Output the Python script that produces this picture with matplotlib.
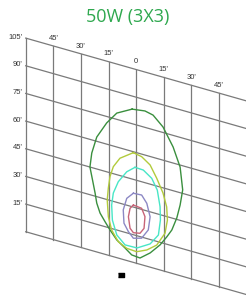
"""Isofootcandle plot for the 50W (3X3) fixture on a sheared floor grid."""

import matplotlib
matplotlib.use("Agg")
import matplotlib.pyplot as plt
import matplotlib.transforms as mtransforms
import numpy as np

# grid, in feet: across (u) and out from the pole (v)
across_ticks = [-60, -45, -30, -15, 0, 15, 30, 45, 60]
across_labels = ["", "45'", "30'", "15'", "0", "15'", "30'", "45'", ""]
out_ticks = [0, 15, 30, 45, 60, 75, 90, 105]
out_labels = ["", "15'", "30'", "45'", "60'", "75'", "90'", "105'"]

# contour outlines, (u, v) in feet
green_u = [-2.2, 4.8, 9.2, 14.6, 20.1, 23.9, 25.3, 23.9, 22.1, 19.4, 16.6, 13.0, 7.6, 2.1,
           -2.4, -6.0, -10.5, -14.2, -16.9, -19.6, -21.4, -22.3, -23.7, -25.1, -24.1, -21.4, -16.0, -10.5]
green_v = [82.9, 83.9, 82.9, 78.0, 68.7, 58.9, 46.9, 38.3, 30.8, 23.5, 18.9, 13.6, 7.7, 3.4,
           3.8, 6.5, 9.6, 14.0, 17.7, 21.6, 26.5, 31.7, 38.4, 45.0, 52.9, 62.3, 71.5, 78.4]
yellow_u = [-1.5, 3.0, 7.6, 11.2, 14.6, 16.6, 17.0, 15.7, 11.2, 5.8, 0.3, -5.1, -9.7, -13.3,
            -15.1, -15.7, -15.1, -14.2, -12.4, -8.8]
yellow_v = [59.5, 58.6, 55.4, 49.2, 42.2, 35.2, 28.2, 20.7, 13.0, 8.8, 6.3, 6.6, 8.9, 14.2,
            20.9, 29.8, 36.5, 42.9, 48.8, 54.4]
cyan_u = [-0.6, 3.9, 8.5, 11.5, 13.0, 13.2, 12.1, 7.6, 0.5, -6.0, -10.5, -12.9, -13.3, -12.4, -9.7, -5.1]
cyan_v = [51.8, 51.6, 48.4, 42.9, 34.3, 27.2, 18.7, 12.6, 8.4, 8.2, 12.3, 19.7, 27.8, 34.5, 41.4, 48.1]
purple_u = [-1.5, 3.0, 5.8, 7.6, 6.6, 3.0, -1.5, -4.2, -6.6, -7.0, -5.1]
purple_v = [37.5, 37.8, 34.1, 27.3, 19.9, 14.4, 13.1, 15.9, 19.8, 26.9, 33.7]
red_u = [-1.5, 3.0, 4.8, 4.3, 2.1, -1.5, -3.3, -4.2, -3.3]
red_v = [31.1, 30.6, 26.6, 20.1, 16.8, 16.1, 18.0, 24.0, 28.8]

contours = [
    (green_u, green_v, "#3a8f3e"),
    (yellow_u, yellow_v, "#b2cb3c"),
    (cyan_u, cyan_v, "#48e6c6"),
    (purple_u, purple_v, "#8c88c4"),
    (red_u, red_v, "#c86478"),
]

SKEW = 0.284          # floor recedes: each foot across drops the grid by this much
GRID = "#7a7a7a"
TEXT = "#333333"
LABEL_FONT = ["Liberation Sans", "DejaVu Sans"]
logo_pos = (-8.4, -8.8)   # small black mark under the grid

fig = plt.figure(figsize=(2.46, 2.96), dpi=100)
ax = fig.add_axes([0, 0, 1, 1])
ax.set_xlim(-73.97, 59.7)
ax.set_ylim(-17.8, 142.7)
ax.axis("off")
floor = mtransforms.Affine2D(np.array([[1, 0, 0], [-SKEW, 1, 0], [0, 0, 1]])) + ax.transData

for v in out_ticks:
    ax.plot([across_ticks[0], across_ticks[-1]], [v, v], color=GRID, lw=0.9, transform=floor)
for u in across_ticks:
    ax.plot([u, u], [out_ticks[0], out_ticks[-1]], color=GRID, lw=0.9, transform=floor)

for v, lab in zip(out_ticks, out_labels):
    ax.text(across_ticks[0] - 1.6, v, lab, ha="right", va="center", fontsize=5.5,
            color=TEXT, family=LABEL_FONT, transform=floor)
for u, lab in zip(across_ticks, across_labels):
    ax.text(u, out_ticks[-1] + 4.2, lab, ha="center", va="center", fontsize=5.5,
            color=TEXT, family=LABEL_FONT, transform=floor)

for cu, cv, color in contours:
    ax.plot(np.append(cu, cu[0]), np.append(cv, cv[0]), color=color, lw=1.0, transform=floor)

ax.plot(*logo_pos, marker=[(-1, -0.5), (1, -0.5), (1, 0.5), (-1, 0.5)], ms=4.5,
        color="black", transform=floor)

fig.text(127.5 / 246, 1 - 17 / 296, "50W (3X3)", ha="center", va="center", fontsize=13,
         color="#2ea84e", family=["Open Sans", "DejaVu Sans"])

fig.savefig("out.png", dpi=100)
